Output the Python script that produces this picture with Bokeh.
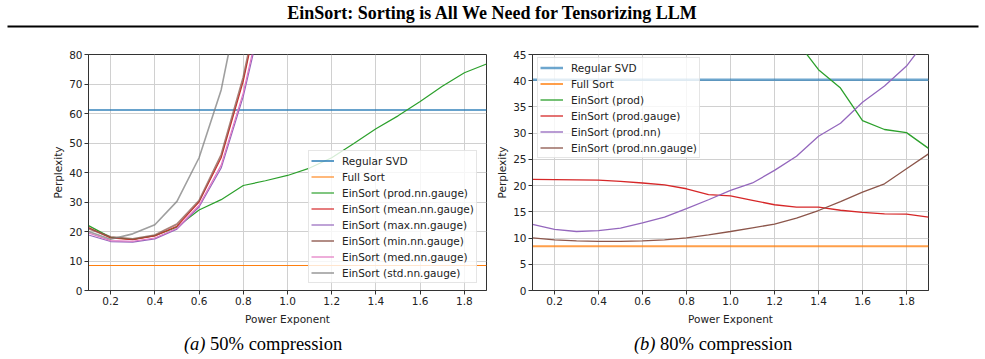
from bokeh.plotting import figure
from bokeh.models import Range1d, FixedTicker, NumeralTickFormatter, Legend, LegendItem
from bokeh.layouts import column, row
from bokeh.embed import file_html
from bokeh.resources import INLINE
from bokeh.core.properties import value

# ---------------- data ----------------
power = [0.1, 0.2, 0.3, 0.4, 0.5, 0.6, 0.7, 0.8, 0.9, 1.0,
         1.1, 1.2, 1.3, 1.4, 1.5, 1.6, 1.7, 1.8, 1.9]
x_ticks = [0.2, 0.4, 0.6, 0.8, 1.0, 1.2, 1.4, 1.6, 1.8]

# (a) 50% compression
svd_50 = 61.2
full_sort_50 = 8.5
prod_nn_gauge_50 = [22.0, 18.0, 17.3, 18.6, 21.5, 27.3, 30.8, 35.6, 37.2, 39.0,
                    41.5, 45.0, 49.8, 54.8, 59.2, 64.1, 69.2, 73.8, 76.8]
power_steep = [0.1, 0.2, 0.3, 0.4, 0.5, 0.6, 0.7, 0.8, 0.9]
mean_nn_gauge_50 = [21.3, 17.8, 17.2, 18.5, 21.8, 30.0, 45.0, 71.0, 106.0]
max_nn_gauge_50 = [18.8, 16.6, 16.4, 17.5, 20.8, 28.3, 41.5, 65.8, 98.0]
min_nn_gauge_50 = [21.0, 18.2, 17.5, 18.8, 22.5, 30.5, 46.0, 72.3, 108.0]
med_nn_gauge_50 = [19.5, 16.9, 16.7, 17.8, 21.1, 28.8, 42.5, 67.0, 100.0]
power_std = [0.1, 0.2, 0.3, 0.4, 0.5, 0.6, 0.7, 0.8]
std_nn_gauge_50 = [20.0, 17.4, 19.2, 22.3, 30.2, 45.0, 68.0, 105.0]
y_ticks_50 = [0, 10, 20, 30, 40, 50, 60, 70, 80]

# (b) 80% compression
svd_80 = 40.2
full_sort_80 = 8.45
power_prod = [1.3, 1.4, 1.5, 1.6, 1.7, 1.8, 1.9]
prod_80 = [47.6, 42.1, 38.6, 32.4, 30.7, 30.1, 27.1]
prod_gauge_80 = [21.2, 21.15, 21.1, 21.05, 20.8, 20.5, 20.15, 19.4, 18.3, 18.05,
                 17.2, 16.35, 15.9, 15.9, 15.3, 14.9, 14.6, 14.55, 14.0]
prod_nn_80 = [12.6, 11.65, 11.25, 11.4, 11.9, 12.9, 14.0, 15.6, 17.3, 19.1,
              20.5, 22.9, 25.6, 29.4, 31.9, 35.9, 39.0, 42.8, 48.3]
prod_nn_gauge_80 = [10.05, 9.65, 9.45, 9.35, 9.35, 9.45, 9.65, 10.05, 10.6, 11.25,
                    11.95, 12.65, 13.8, 15.25, 16.95, 18.75, 20.35, 23.2, 26.05]
y_ticks_80 = [0, 5, 10, 15, 20, 25, 30, 35, 40, 45]

BLUE, ORANGE, GREEN, RED = "#1f77b4", "#ff7f0e", "#2ca02c", "#d62728"
PURPLE, BROWN, PINK, GRAY = "#9467bd", "#8c564b", "#e377c2", "#7f7f7f"
SANS = "DejaVu Sans"
SERIF = "Liberation Serif"
FS = "10.5px"


def panel(width, y_max, y_ticks, border_left, border_right):
    p = figure(width=width, height=288, output_backend="svg", toolbar_location=None,
               x_range=Range1d(0.1, 1.9), y_range=Range1d(0, y_max),
               min_border_left=border_left, min_border_right=border_right,
               min_border_top=14, min_border_bottom=38)
    p.xaxis.ticker = FixedTicker(ticks=x_ticks)
    p.yaxis.ticker = FixedTicker(ticks=y_ticks)
    p.xaxis.formatter = NumeralTickFormatter(format="0.0")
    p.xaxis.axis_label = "Power Exponent"
    p.yaxis.axis_label = "Perplexity"
    for ax in p.axis:
        ax.major_label_text_font = SANS
        ax.major_label_text_font_size = FS
        ax.major_label_text_color = "#222222"
        ax.axis_label_text_font = SANS
        ax.axis_label_text_font_size = FS
        ax.axis_label_text_font_style = "normal"
        ax.axis_label_text_color = "#222222"
        ax.axis_line_color = "#333333"
        ax.major_tick_line_color = "#333333"
        ax.major_tick_out = 4
        ax.major_tick_in = 0
        ax.minor_tick_line_color = None
    p.xaxis.major_label_standoff = 2
    p.yaxis.major_label_standoff = 2
    p.xaxis.axis_label_standoff = 5
    p.yaxis.axis_label_standoff = 2
    p.grid.grid_line_color = "#d0d0d0"
    p.grid.grid_line_width = 1
    p.outline_line_color = "#333333"
    p.background_fill_color = "white"
    p.border_fill_color = "white"
    return p


def make_legend(items, loc):
    return Legend(items=items, location=loc, label_text_font=SANS,
                  label_text_font_size=FS, label_text_color="#222222",
                  label_height=15, glyph_height=15, glyph_width=23, label_standoff=8,
                  spacing=1, padding=2, margin=0,
                  border_line_color="#cccccc", border_line_width=1,
                  background_fill_color="white", background_fill_alpha=0.8)


# ---------------- (a) 50% compression ----------------
pa = panel(490, 80, y_ticks_50, 88, 4)
r_svd = pa.line(power, [svd_50] * len(power), line_color=BLUE, line_width=1.6, line_alpha=0.9)
r_full = pa.line(power, [full_sort_50] * len(power), line_color=ORANGE, line_width=1.1)
r_prod = pa.line(power, prod_nn_gauge_50, line_color=GREEN, line_width=1.2)
r_mean = pa.line(power_steep, mean_nn_gauge_50, line_color=RED, line_width=1.2)
r_max = pa.line(power_steep, max_nn_gauge_50, line_color=PURPLE, line_width=1.2)
r_min = pa.line(power_steep, min_nn_gauge_50, line_color=BROWN, line_width=1.8, line_alpha=0.75)
r_med = pa.line(power_steep, med_nn_gauge_50, line_color=PINK, line_width=1.2)
r_std = pa.line(power_std, std_nn_gauge_50, line_color=GRAY, line_width=1.6, line_alpha=0.75)

legend_a = make_legend([
    LegendItem(label="Regular SVD", renderers=[r_svd]),
    LegendItem(label="Full Sort", renderers=[r_full]),
    LegendItem(label="EinSort (prod.nn.gauge)", renderers=[r_prod]),
    LegendItem(label="EinSort (mean.nn.gauge)", renderers=[r_mean]),
    LegendItem(label="EinSort (max.nn.gauge)", renderers=[r_max]),
    LegendItem(label="EinSort (min.nn.gauge)", renderers=[r_min]),
    LegendItem(label="EinSort (med.nn.gauge)", renderers=[r_med]),
    LegendItem(label="EinSort (std.nn.gauge)", renderers=[r_std]),
], (220, 7))
pa.add_layout(legend_a)

# ---------------- (b) 80% compression ----------------
pb = panel(495, 45, y_ticks_80, 42, 57)
s_svd = pb.line(power, [svd_80] * len(power), line_color=BLUE, line_width=2.5, line_alpha=0.65)
s_full = pb.line(power, [full_sort_80] * len(power), line_color=ORANGE, line_width=2, line_alpha=0.75)
s_prod = pb.line(power_prod, prod_80, line_color=GREEN, line_width=1.3)
s_pg = pb.line(power, prod_gauge_80, line_color=RED, line_width=1.3)
s_pn = pb.line(power, prod_nn_80, line_color=PURPLE, line_width=1.3)
s_png = pb.line(power, prod_nn_gauge_80, line_color=BROWN, line_width=1.3)

legend_b = make_legend([
    LegendItem(label="Regular SVD", renderers=[s_svd]),
    LegendItem(label="Full Sort", renderers=[s_full]),
    LegendItem(label="EinSort (prod)", renderers=[s_prod]),
    LegendItem(label="EinSort (prod.gauge)", renderers=[s_pg]),
    LegendItem(label="EinSort (prod.nn)", renderers=[s_pn]),
    LegendItem(label="EinSort (prod.nn.gauge)", renderers=[s_png]),
], (5, 132))
pb.add_layout(legend_b)


# ---------------- header and captions ----------------
def strip(height):
    s = figure(width=985, height=height, output_backend="svg", toolbar_location=None,
               x_range=Range1d(0, 985), y_range=Range1d(height, 0),
               x_axis_type=None, y_axis_type=None, min_border=0)
    s.grid.visible = False
    s.outline_line_color = None
    s.background_fill_color = "white"
    s.border_fill_color = "white"
    return s


head = strip(40)
head.text(x=[492.5], y=[12], text=["EinSort: Sorting is All We Need for Tensorizing LLM"],
          text_font=value(SERIF), text_font_size="18px", text_font_style="bold",
          text_align="center", text_baseline="alphabetic", text_color="black")
head.line(x=[7, 978], y=[26, 26], line_color="black", line_width=2.2)

cap = strip(31)
cap_base = 343 - 328
cap.text(x=[205, 655], y=[cap_base, cap_base], text=["(a)", "(b)"],
         text_font=value(SERIF), text_font_size="18.5px", text_font_style="italic",
         text_align="right", text_baseline="alphabetic", text_color="black")
cap.text(x=[209.6, 659.6], y=[cap_base, cap_base], text=["50% compression", "80% compression"],
         text_font=value(SERIF), text_font_size="18.5px", text_font_style="normal",
         text_align="left", text_baseline="alphabetic", text_color="black")

layout = column(head, row(pa, pb, spacing=0), cap, spacing=0)

with open("out.html", "w") as f:
    f.write(file_html(layout, INLINE))
